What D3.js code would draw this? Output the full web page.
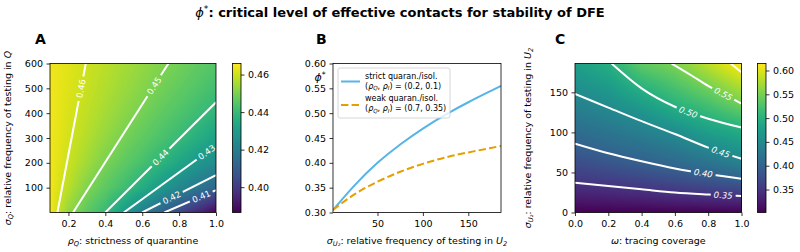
<!DOCTYPE html>
<html>
<head>
<meta charset="utf-8">
<script src="https://cdn.jsdelivr.net/npm/d3@7"></script>
<style>
  body { margin: 0; background: #fff; }
  svg text { font-family: "DejaVu Sans", sans-serif; fill: #000; }
</style>
</head>
<body>
<svg id="chart" width="800" height="252"></svg>
<script>
// ---- panel A: phi* over rho_Q (columns) x sigma_Q (rows) ----
var rhoQ = [0.1, 0.2, 0.3, 0.4, 0.5, 0.6, 0.7, 0.8, 0.9, 1.0];
var sigmaQ = [0, 100, 200, 300, 400, 500, 600];
var phiA = [
  [0.4647, 0.4529, 0.4457, 0.4400, 0.4300, 0.4200, 0.4117, 0.4033, 0.3950, 0.3867],
  [0.4645, 0.4576, 0.4508, 0.4460, 0.4416, 0.4357, 0.4292, 0.4237, 0.4180, 0.4119],
  [0.4644, 0.4596, 0.4547, 0.4499, 0.4463, 0.4426, 0.4385, 0.4335, 0.4289, 0.4251],
  [0.4644, 0.4606, 0.4569, 0.4531, 0.4495, 0.4464, 0.4433, 0.4402, 0.4362, 0.4322],
  [0.4644, 0.4613, 0.4582, 0.4552, 0.4521, 0.4492, 0.4465, 0.4438, 0.4411, 0.4380],
  [0.4643, 0.4618, 0.4592, 0.4566, 0.4540, 0.4514, 0.4490, 0.4466, 0.4442, 0.4418],
  [0.4643, 0.4621, 0.4599, 0.4576, 0.4554, 0.4532, 0.4509, 0.4488, 0.4466, 0.4445]
];
var rangeA = [0.3865, 0.4659];
// contour lines: [level, [[rho, sigma], ...]]
var contoursA = [
  [0.46, [[0.14, 0], [0.294, 600]]],
  [0.45, [[0.225, 0], [0.742, 600]]],
  [0.44, [[0.40, 0], [1.0, 444]]],
  [0.43, [[0.50, 0], [1.0, 270]]],
  [0.42, [[0.60, 0], [1.0, 150]]],
  [0.41, [[0.72, 0], [1.0, 90]]]
];
// label position along each line, given as rho
var labelsA = [[0.46, 0.268], [0.45, 0.665], [0.44, 0.70], [0.43, 0.95], [0.42, 0.76], [0.41, 0.92]];
var ticksAx = [0.2, 0.4, 0.6, 0.8, 1.0];
var ticksAy = [100, 200, 300, 400, 500, 600];
var ticksAcb = [0.40, 0.42, 0.44, 0.46];

// ---- panel B: phi* vs sigma_U2 ----
var sigmaU2Line = [1, 25, 50, 75, 100, 125, 150, 175, 186];
var phiStrict = [0.305, 0.355, 0.400, 0.437, 0.469, 0.497, 0.522, 0.545, 0.555];
var phiWeak = [0.305, 0.337, 0.362, 0.382, 0.398, 0.411, 0.421, 0.430, 0.434];
var ticksBx = [50, 100, 150];
var ticksBy = [0.30, 0.35, 0.40, 0.45, 0.50, 0.55, 0.60];

// ---- panel C: phi* over omega (columns) x sigma_U2 (rows) ----
var omega = [0, 0.2, 0.4, 0.6, 0.8, 1.0];
var sigmaU2Grid = [0, 20, 40, 60, 80, 100, 120, 140, 160, 186];
var phiC = [
  [0.302, 0.302, 0.302, 0.302, 0.302, 0.302],
  [0.328, 0.331, 0.3351, 0.3404, 0.3447, 0.3488],
  [0.353, 0.3585, 0.3657, 0.375, 0.3843, 0.3953],
  [0.3735, 0.3829, 0.3943, 0.4058, 0.4182, 0.436],
  [0.3939, 0.4053, 0.416, 0.4291, 0.4485, 0.4667],
  [0.4113, 0.4228, 0.436, 0.4529, 0.4764, 0.4923],
  [0.4274, 0.4404, 0.4573, 0.4824, 0.5037, 0.5233],
  [0.4435, 0.4579, 0.4817, 0.5078, 0.528, 0.5551],
  [0.4589, 0.4754, 0.5061, 0.5275, 0.5524, 0.5808],
  [0.478, 0.4982, 0.5378, 0.553, 0.5841, 0.6147]
];
var rangeC = [0.3017, 0.6147];
var contoursC = [
  [0.35, [[0, 37], [0.2, 33], [0.4, 29], [0.6, 25], [0.8, 22.5], [1, 20.5]]],
  [0.40, [[0, 86], [0.2, 74], [0.4, 64], [0.6, 55], [0.8, 48], [1, 42]]],
  [0.45, [[0, 148], [0.2, 131], [0.4, 114], [0.6, 98], [0.8, 81], [1, 67]]],
  [0.50, [[0.22, 186], [0.4, 155], [0.6, 132], [0.8, 117], [1, 106]]],
  [0.55, [[0.58, 186], [0.7, 171], [0.8, 158], [0.9, 147], [1, 136]]],
  [0.60, [[0.935, 186], [1, 175]]]
];
var labelsC = [[0.35, 0.89], [0.40, 0.77], [0.45, 0.875], [0.50, 0.68], [0.55, 0.89]];
var ticksCx = [0, 0.2, 0.4, 0.6, 0.8, 1.0];
var ticksCy = [0, 50, 100, 150];
var ticksCcb = [0.35, 0.40, 0.45, 0.50, 0.55, 0.60];

var FONT = 9.5;
var svg = d3.select("#chart");
var defs = svg.append("defs");

// text with italic / sub / sup pieces: parts = [[text, style], ...]
function richText(sel, parts, size) {
  var shift = 0;
  parts.forEach(function (p) {
    var t = sel.append("tspan").text(p[0]);
    var target = 0;
    if (p[1] == "i") t.style("font-style", "italic");
    if (p[1] == "b") t.style("font-weight", "bold");
    if (p[1] == "sub") {
      t.style("font-style", "italic").attr("font-size", size * 0.7);
      target = size * 0.22;
    }
    if (p[1] == "sup") {
      t.attr("font-size", size * 0.7);
      target = -size * 0.38;
    }
    if (target != shift) t.attr("dy", target - shift);
    shift = target;
  });
  return sel;
}

function styleAxis(g) {
  g.select(".domain").remove();
  g.selectAll(".tick line").attr("stroke", "#000").attr("stroke-width", 0.8);
  g.selectAll(".tick text")
    .attr("font-size", FONT)
    .attr("font-family", "DejaVu Sans")
    .attr("fill", "#000");
}

function frame(box) {
  svg
    .append("rect")
    .attr("x", box.x0)
    .attr("y", box.y0)
    .attr("width", box.x1 - box.x0)
    .attr("height", box.y1 - box.y0)
    .attr("fill", "none")
    .attr("stroke", "#000")
    .attr("stroke-width", 0.8);
}

// bilinear colour fill of a value grid into a canvas, placed as an image
function drawHeat(box, xs, ys, grid, x, y, color) {
  var w = Math.round(box.x1 - box.x0),
    h = Math.round(box.y1 - box.y0);
  var canvas = document.createElement("canvas");
  canvas.width = w;
  canvas.height = h;
  var ctx = canvas.getContext("2d");
  var img = ctx.createImageData(w, h);
  var ix = d3.scaleLinear().domain(xs).range(d3.range(xs.length)).clamp(true);
  var iy = d3.scaleLinear().domain(ys).range(d3.range(ys.length)).clamp(true);
  for (var j = 0; j < h; j++) {
    for (var i = 0; i < w; i++) {
      var fx = ix(x.invert(box.x0 + i + 0.5)),
        fy = iy(y.invert(box.y0 + j + 0.5));
      var i0 = Math.min(Math.floor(fx), xs.length - 2),
        j0 = Math.min(Math.floor(fy), ys.length - 2);
      var tx = fx - i0,
        ty = fy - j0;
      var v =
        (1 - tx) * (1 - ty) * grid[j0][i0] +
        tx * (1 - ty) * grid[j0][i0 + 1] +
        (1 - tx) * ty * grid[j0 + 1][i0] +
        tx * ty * grid[j0 + 1][i0 + 1];
      var c = d3.rgb(color(v));
      var k = (j * w + i) * 4;
      img.data[k] = c.r;
      img.data[k + 1] = c.g;
      img.data[k + 2] = c.b;
      img.data[k + 3] = 255;
    }
  }
  ctx.putImageData(img, 0, 0);
  svg
    .append("image")
    .attr("x", box.x0)
    .attr("y", box.y0)
    .attr("width", w)
    .attr("height", h)
    .attr("preserveAspectRatio", "none")
    .attr("href", canvas.toDataURL());
}

// white contour lines with inline labels cut out of the line
function drawContours(box, id, lines, labels, x, y, curve, italic) {
  defs
    .append("clipPath")
    .attr("id", id + "-clip")
    .append("rect")
    .attr("x", box.x0)
    .attr("y", box.y0)
    .attr("width", box.x1 - box.x0)
    .attr("height", box.y1 - box.y0);
  var mask = defs
    .append("mask")
    .attr("id", id + "-mask")
    .attr("maskUnits", "userSpaceOnUse")
    .attr("x", 0)
    .attr("y", 0)
    .attr("width", 800)
    .attr("height", 252);
  mask.append("rect").attr("width", 800).attr("height", 252).attr("fill", "#fff");

  var line = d3
    .line()
    .x(function (d) { return x(d[0]); })
    .y(function (d) { return y(d[1]); })
    .curve(curve);

  var outer = svg.append("g").attr("clip-path", "url(#" + id + "-clip)");
  var g = outer.append("g").attr("mask", "url(#" + id + "-mask)");
  var paths = {};
  lines.forEach(function (l) {
    paths[l[0]] = g
      .append("path")
      .attr("d", line(l[1]))
      .attr("fill", "none")
      .attr("stroke", "#fff")
      .attr("stroke-width", 2);
  });

  labels.forEach(function (lb) {
    var node = paths[lb[0]].node();
    var len = node.getTotalLength(),
      target = x(lb[1]),
      best = 0,
      bestD = 1e9;
    for (var s = 0; s <= len; s += 0.25) {
      var q = node.getPointAtLength(s);
      if (Math.abs(q.x - target) < bestD) {
        bestD = Math.abs(q.x - target);
        best = s;
      }
    }
    var p = node.getPointAtLength(best),
      a = node.getPointAtLength(Math.max(0, best - 4)),
      b = node.getPointAtLength(Math.min(len, best + 4));
    var ang = (Math.atan2(b.y - a.y, b.x - a.x) * 180) / Math.PI;
    if (ang > 90) ang -= 180;
    if (ang < -90) ang += 180;
    var t = outer
      .append("text")
      .attr("transform", "translate(" + p.x + "," + p.y + ") rotate(" + ang + ")")
      .attr("text-anchor", "middle")
      .attr("dy", "0.35em")
      .attr("font-size", 8.5)
      .style("fill", "#fff")
      .style("font-style", italic ? "italic" : "normal")
      .text(d3.format(".2f")(lb[0]));
    var tw = t.node().getComputedTextLength() + 6;
    mask
      .append("rect")
      .attr("x", -tw / 2)
      .attr("y", -5)
      .attr("width", tw)
      .attr("height", 10)
      .attr("fill", "#000")
      .attr("transform", "translate(" + p.x + "," + p.y + ") rotate(" + ang + ")");
  });
}

function colorbar(box, id, domain, ticks) {
  var grad = defs
    .append("linearGradient")
    .attr("id", id + "-grad")
    .attr("x1", 0)
    .attr("y1", 1)
    .attr("x2", 0)
    .attr("y2", 0);
  d3.range(0, 1.0001, 0.05).forEach(function (t) {
    grad.append("stop").attr("offset", t).attr("stop-color", d3.interpolateViridis(t));
  });
  svg
    .append("rect")
    .attr("x", box.cb0)
    .attr("y", box.y0)
    .attr("width", box.cb1 - box.cb0)
    .attr("height", box.y1 - box.y0)
    .attr("fill", "url(#" + id + "-grad)")
    .attr("stroke", "#000")
    .attr("stroke-width", 0.8);
  var s = d3.scaleLinear().domain(domain).range([box.y1, box.y0]);
  svg
    .append("g")
    .attr("transform", "translate(" + box.cb1 + ",0)")
    .call(d3.axisRight(s).tickValues(ticks).tickFormat(d3.format(".2f")).tickSize(3.5).tickPadding(3.5))
    .call(styleAxis);
}

function axes(box, x, y, xt, yt, xf, yf) {
  svg
    .append("g")
    .attr("transform", "translate(0," + box.y1 + ")")
    .call(d3.axisBottom(x).tickValues(xt).tickFormat(xf).tickSize(3.5).tickPadding(4.5))
    .call(styleAxis);
  svg
    .append("g")
    .attr("transform", "translate(" + box.x0 + ",0)")
    .call(d3.axisLeft(y).tickValues(yt).tickFormat(yf).tickSize(3.5).tickPadding(3.5))
    .call(styleAxis);
}

function xLabel(box, parts) {
  richText(
    svg
      .append("text")
      .attr("x", (box.x0 + box.x1) / 2)
      .attr("y", 244)
      .attr("text-anchor", "middle")
      .attr("font-size", FONT),
    parts,
    FONT
  );
}

function yLabel(box, xpos, parts) {
  richText(
    svg
      .append("text")
      .attr("transform", "translate(" + xpos + "," + (box.y0 + box.y1) / 2 + ") rotate(-90)")
      .attr("text-anchor", "middle")
      .attr("font-size", FONT),
    parts,
    FONT
  );
}

function panelLetter(xpos, letter) {
  svg
    .append("text")
    .attr("x", xpos)
    .attr("y", 44)
    .attr("font-size", 14)
    .attr("font-weight", "bold")
    .text(letter);
}

// title
richText(
  svg.append("text").attr("x", 400).attr("y", 17).attr("text-anchor", "middle").attr("font-size", 13),
  [["ϕ", "i"], ["*", "sup"], [": critical level of effective contacts for stability of DFE", "b"]],
  13
);

// ---------- A ----------
var boxA = { x0: 50, x1: 216, y0: 63.5, y1: 212.5, cb0: 232.5, cb1: 241 };
var xA = d3.scaleLinear().domain([0.1, 1.0]).range([boxA.x0, boxA.x1]);
var yA = d3.scaleLinear().domain([0, 600]).range([boxA.y1, boxA.y0]);
var colA = d3.scaleSequential(d3.interpolateViridis).domain(rangeA);
drawHeat(boxA, rhoQ, sigmaQ, phiA, xA, yA, colA);
drawContours(boxA, "A", contoursA, labelsA, xA, yA, d3.curveLinear, false);
frame(boxA);
axes(boxA, xA, yA, ticksAx, ticksAy, d3.format(".1f"), d3.format("d"));
colorbar(boxA, "A", rangeA, ticksAcb);
xLabel(boxA, [["ρ", "i"], ["Q", "sub"], [": strictness of quarantine", ""]]);
yLabel(boxA, 11, [["σ", "i"], ["Q", "sub"], [": relative frequency of testing in ", ""], ["Q", "i"]]);
panelLetter(35, "A");

// ---------- B ----------
var boxB = { x0: 333, x1: 501, y0: 63.5, y1: 212.5 };
var xB = d3.scaleLinear().domain([1, 186]).range([boxB.x0, boxB.x1]);
var yB = d3.scaleLinear().domain([0.30, 0.60]).range([boxB.y1, boxB.y0]);
defs
  .append("clipPath")
  .attr("id", "B-clip")
  .append("rect")
  .attr("x", boxB.x0)
  .attr("y", boxB.y0)
  .attr("width", boxB.x1 - boxB.x0)
  .attr("height", boxB.y1 - boxB.y0);
var lineB = function (vals) {
  return d3
    .line()
    .x(function (d, i) { return xB(sigmaU2Line[i]); })
    .y(function (d) { return yB(d); })
    .curve(d3.curveNatural)(vals);
};
var gB = svg.append("g").attr("clip-path", "url(#B-clip)");
gB.append("path")
  .attr("d", lineB(phiStrict))
  .attr("fill", "none")
  .attr("stroke", "#56B4E9")
  .attr("stroke-width", 2);
gB.append("path")
  .attr("d", lineB(phiWeak))
  .attr("fill", "none")
  .attr("stroke", "#E69F00")
  .attr("stroke-width", 2)
  .attr("stroke-dasharray", "7.4,3.2");
frame(boxB);
axes(boxB, xB, yB, ticksBx, ticksBy, d3.format("d"), d3.format(".2f"));
xLabel(boxB, [["σ", "i"], ["U₂", "sub"], [": relative frequency of testing in ", ""], ["U", "i"], ["2", "sub"]]);
richText(
  svg.append("text").attr("x", 320).attr("y", 81).attr("text-anchor", "middle").attr("font-size", 11),
  [["ϕ", "i"], ["*", "sup"]],
  11
);
panelLetter(316, "B");

// legend
var LF = 8;
var leg = svg.append("g");
leg.append("rect")
  .attr("x", 338)
  .attr("y", 68)
  .attr("width", 112)
  .attr("height", 50)
  .attr("rx", 2)
  .attr("fill", "#fff")
  .attr("fill-opacity", 0.8)
  .attr("stroke", "#ccc")
  .attr("stroke-width", 0.8);
leg.append("line").attr("x1", 341).attr("x2", 360).attr("y1", 81.5).attr("y2", 81.5)
  .attr("stroke", "#56B4E9").attr("stroke-width", 2);
leg.append("line").attr("x1", 341).attr("x2", 360).attr("y1", 105).attr("y2", 105)
  .attr("stroke", "#E69F00").attr("stroke-width", 2).attr("stroke-dasharray", "7.4,3.2");
leg.append("text").attr("x", 365).attr("y", 78.5).attr("font-size", LF).text("strict quaran./isol.");
richText(leg.append("text").attr("x", 365).attr("y", 88.5).attr("font-size", LF),
  [["(", ""], ["ρ", "i"], ["Q", "sub"], [", ", ""], ["ρ", "i"], ["I", "sub"], [") = (0.2, 0.1)", ""]], LF);
leg.append("text").attr("x", 365).attr("y", 101).attr("font-size", LF).text("weak quaran./isol.");
richText(leg.append("text").attr("x", 365).attr("y", 111).attr("font-size", LF),
  [["(", ""], ["ρ", "i"], ["Q", "sub"], [", ", ""], ["ρ", "i"], ["I", "sub"], [") = (0.7, 0.35)", ""]], LF);

// ---------- C ----------
var boxC = { x0: 575, x1: 741.5, y0: 63.5, y1: 212.5, cb0: 757.5, cb1: 766 };
var xC = d3.scaleLinear().domain([0, 1]).range([boxC.x0, boxC.x1]);
var yC = d3.scaleLinear().domain([0, 186]).range([boxC.y1, boxC.y0]);
var colC = d3.scaleSequential(d3.interpolateViridis).domain(rangeC);
drawHeat(boxC, omega, sigmaU2Grid, phiC, xC, yC, colC);
drawContours(boxC, "C", contoursC, labelsC, xC, yC, d3.curveMonotoneX, true);
frame(boxC);
axes(boxC, xC, yC, ticksCx, ticksCy, d3.format(".1f"), d3.format("d"));
colorbar(boxC, "C", rangeC, ticksCcb);
xLabel(boxC, [["ω", "i"], [": tracing coverage", ""]]);
yLabel(boxC, 531, [["σ", "i"], ["U₂", "sub"], [": relative frequency of testing in ", ""], ["U", "i"], ["2", "sub"]]);
panelLetter(555, "C");
</script>
</body>
</html>
